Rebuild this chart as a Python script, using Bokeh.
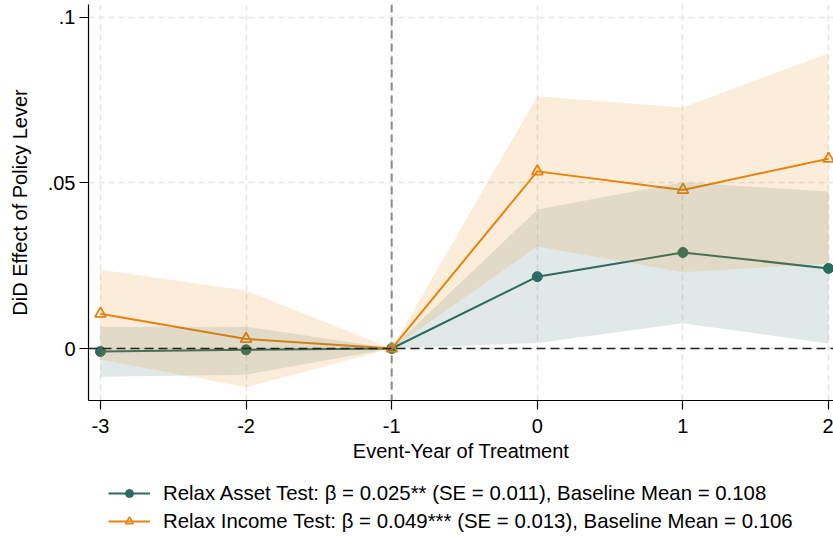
from bokeh.plotting import figure
from bokeh.layouts import column
from bokeh.models import (ColumnDataSource, FixedTicker, CustomJSTickFormatter, Span,
                          Legend, LegendItem, Range1d)
from bokeh.embed import file_html
from bokeh.resources import INLINE

# ---- data ----
event_year = [-3, -2, -1, 0, 1, 2]

asset_coef = [-0.0009, -0.0004, 0.0, 0.0217, 0.0290, 0.0242]
asset_lo = [-0.0085, -0.0079, 0.0, 0.0017, 0.0076, 0.0015]
asset_hi = [0.0066, 0.0066, 0.0, 0.0420, 0.0502, 0.0474]

income_coef = [0.0105, 0.0029, 0.0, 0.0535, 0.0479, 0.0573]
income_lo = [-0.0033, -0.0117, 0.0, 0.0308, 0.0230, 0.0257]
income_hi = [0.0238, 0.0175, 0.0, 0.0762, 0.0728, 0.0892]

y_ticks = [0, 0.05, 0.1]
x_ticks = [-3, -2, -1, 0, 1, 2]

asset_label = "Relax Asset Test: \u03b2 = 0.025** (SE = 0.011), Baseline Mean = 0.108"
income_label = "Relax Income Test: \u03b2 = 0.049*** (SE = 0.013), Baseline Mean = 0.106"

GREEN = "#2c6b60"
ORANGE = "#e8830c"
FONT = "Liberation Sans"
FS = "20px"

src = ColumnDataSource(dict(x=event_year, a=asset_coef, alo=asset_lo, ahi=asset_hi,
                            i=income_coef, ilo=income_lo, ihi=income_hi))

p = figure(width=833, height=474, output_backend="svg", toolbar_location=None,
           x_range=Range1d(-3.082, 2.034), y_range=Range1d(-0.0157, 0.1039),
           min_border_left=88, min_border_right=0, min_border_top=4, min_border_bottom=74)
p.outline_line_color = None
p.background_fill_color = "white"
p.border_fill_color = "white"

# grids
for g in (p.xgrid, p.ygrid):
    g.grid_line_color = "#e6e6e6"
    g.grid_line_dash = "6 4"
    g.grid_line_width = 1.5
p.xgrid.ticker = FixedTicker(ticks=x_ticks)
p.ygrid.ticker = FixedTicker(ticks=y_ticks)

# reference lines
p.add_layout(Span(location=-1, dimension="height", line_color="#8a8a8a",
                  line_dash="8 5", line_width=2))
p.add_layout(Span(location=0, dimension="width", line_color="#222222",
                  line_dash="9 5", line_width=1.6))

# lines + markers
la = p.line("x", "a", source=src, line_color=GREEN, line_width=2)
ma = p.scatter("x", "a", source=src, marker="circle", size=10, fill_color=GREEN,
               line_color=GREEN)
li = p.line("x", "i", source=src, line_color=ORANGE, line_width=2)
mi = p.scatter("x", "i", source=src, marker="triangle", size=11, fill_color=None,
               line_color=ORANGE, line_width=1.8)

# confidence bands drawn over lines
p.varea("x", "alo", "ahi", source=src, fill_color=GREEN, fill_alpha=0.15)
p.varea("x", "ilo", "ihi", source=src, fill_color=ORANGE, fill_alpha=0.15)

# axes
p.xaxis.ticker = FixedTicker(ticks=x_ticks)
p.yaxis.ticker = FixedTicker(ticks=y_ticks)
p.xaxis.formatter = CustomJSTickFormatter(code="return tick.toString();")
p.yaxis.formatter = CustomJSTickFormatter(code="""
if (tick == 0) return "0";
var s = (Math.round(tick*1000)/1000).toString();
return s.replace(/^0\\./, ".");
""")
for ax in (p.xaxis, p.yaxis):
    ax.axis_line_color = "black"
    ax.axis_line_width = 1.2
    ax.major_tick_line_color = "black"
    ax.major_tick_line_width = 1.2
    ax.major_tick_in = 0
    ax.major_tick_out = 9
    ax.minor_tick_line_color = None
    ax.major_label_text_font = FONT
    ax.major_label_text_font_size = FS
    ax.major_label_text_color = "black"
    ax.axis_label_text_font = FONT
    ax.axis_label_text_font_size = FS
    ax.axis_label_text_font_style = "normal"
    ax.axis_label_text_color = "black"
p.xaxis.axis_label = "Event-Year of Treatment"
p.yaxis.axis_label = "DiD Effect of Policy Lever"
p.xaxis.major_label_standoff = 9
p.xaxis.axis_label_standoff = 4
p.yaxis.major_label_standoff = 4
p.yaxis.axis_label_standoff = 14
p.yaxis.major_label_orientation = "horizontal"

# legend figure below the chart
q = figure(width=833, height=63, output_backend="svg", toolbar_location=None,
           x_range=Range1d(0, 1), y_range=Range1d(0, 1),
           x_axis_type=None, y_axis_type=None,
           min_border_left=0, min_border_right=0, min_border_top=0, min_border_bottom=0)
q.outline_line_color = None
q.xgrid.visible = False
q.ygrid.visible = False
hidden = ColumnDataSource(dict(x=[-10, -9], y=[-10, -10]))
qa_l = q.line("x", "y", source=hidden, line_color=GREEN, line_width=2)
qa_m = q.scatter("x", "y", source=hidden, marker="circle", size=8, fill_color=GREEN,
                 line_color=GREEN)
qi_l = q.line("x", "y", source=hidden, line_color=ORANGE, line_width=2)
qi_m = q.scatter("x", "y", source=hidden, marker="triangle", size=9, fill_color=None,
                 line_color=ORANGE, line_width=1.6)

legend = Legend(items=[LegendItem(label=asset_label, renderers=[qa_l, qa_m]),
                       LegendItem(label=income_label, renderers=[qi_l, qi_m])],
                location=(20, 4), orientation="vertical")
legend.label_text_font = FONT
legend.label_text_font_size = "20.4px"
legend.label_text_color = "black"
legend.glyph_width = 42
legend.label_standoff = 13
legend.label_height = 24
legend.spacing = 4
legend.padding = 0
legend.margin = 0
legend.border_line_color = None
legend.background_fill_alpha = 0
q.add_layout(legend, "center")

layout = column(p, q, spacing=0)
open("out.html", "w").write(file_html(layout, INLINE))
